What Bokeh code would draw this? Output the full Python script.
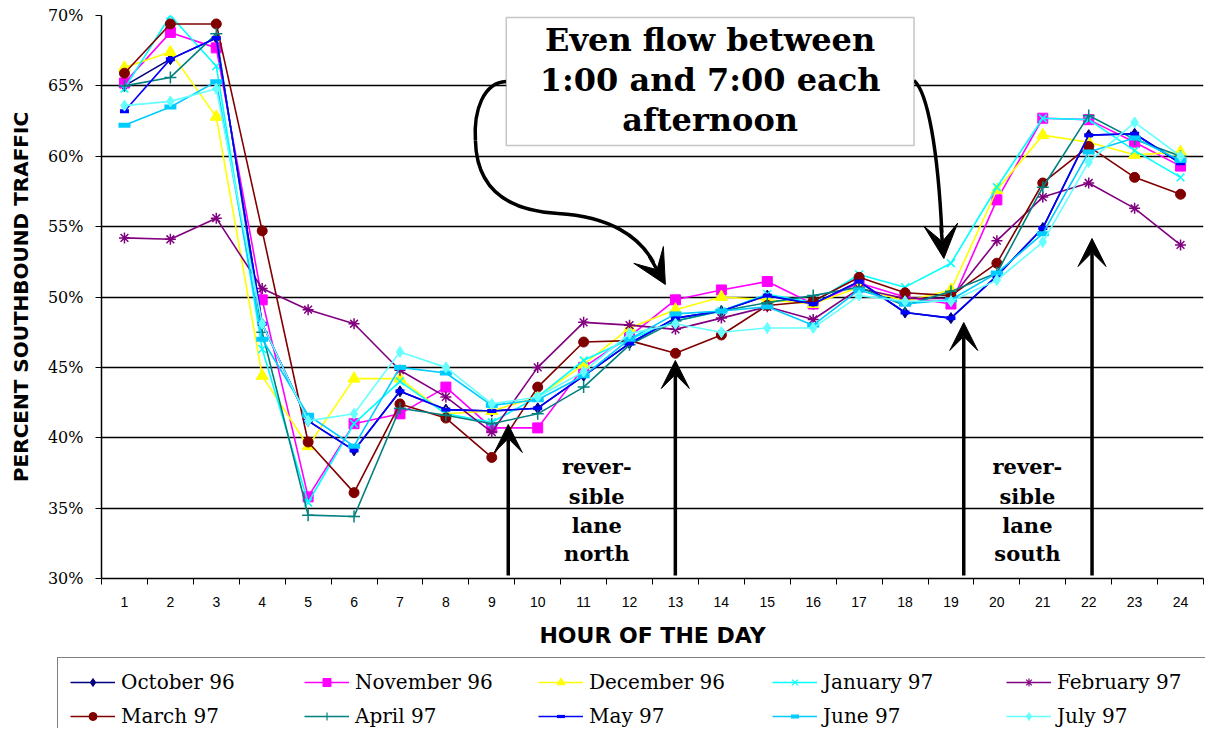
from bokeh.plotting import figure
from bokeh.layouts import column
from bokeh.models import (Range1d, FixedTicker, PrintfTickFormatter, Legend, LegendItem,
                          Arrow, VeeHead, BoxAnnotation, Label)
from bokeh.embed import file_html
from bokeh.resources import INLINE

# ---------------- data ----------------
hours = list(range(1, 25))
hour_edges = [h - 0.5 for h in hours] + [24.5]
y_ticks = [30, 35, 40, 45, 50, 55, 60, 65, 70]

oct96 = [65.0, 66.9, 68.4, 48.1, 41.2, 39.1, 43.3, 42.0, 41.9, 42.1, 44.4, 46.7,
         48.5, 49.0, 50.1, 49.5, 51.1, 48.9, 48.5, 51.5, 54.9, 61.5, 61.6, 59.5]
nov96 = [65.2, 68.8, 67.7, 49.8, 35.8, 41.0, 41.7, 43.6, 40.7, 40.7, 45.0, 47.2,
         49.8, 50.5, 51.1, 49.5, 51.0, 50.0, 49.5, 56.9, 62.7, 62.6, 61.0, 59.3]
dec96 = [66.3, 67.4, 62.8, 44.4, 39.4, 44.2, 44.2, 41.7, 41.9, 42.9, 45.2, 47.8,
         49.1, 50.0, 49.8, 49.5, 50.7, 49.7, 50.5, 57.6, 61.5, 61.0, 60.1, 60.3]
jan97 = [64.8, 70.0, 66.4, 46.3, 35.4, 41.0, 44.0, 41.7, 41.1, 42.9, 45.5, 47.0,
         48.3, 49.0, 50.2, 49.6, 51.6, 50.7, 52.4, 57.8, 62.7, 62.6, 60.4, 58.5]
feb97 = [54.2, 54.1, 55.6, 50.6, 49.1, 48.1, 44.8, 42.9, 40.4, 45.0, 48.2, 48.0,
         47.7, 48.5, 49.3, 48.4, 50.6, 49.9, 49.9, 54.0, 57.1, 58.1, 56.3, 53.7]
mar97 = [65.9, 69.4, 69.4, 54.7, 39.7, 36.1, 42.4, 41.4, 38.6, 43.6, 46.8, 46.9,
         46.0, 47.3, 49.4, 49.7, 51.4, 50.3, 50.1, 52.4, 58.1, 60.7, 58.5, 57.3]
apr97 = [65.0, 65.6, 68.7, 47.5, 34.5, 34.4, 42.1, 41.6, 41.0, 41.7, 43.6, 46.6,
         48.3, 49.0, 49.6, 50.1, 50.7, 49.4, 50.4, 51.7, 57.8, 62.9, 61.2, 60.0]
may97 = [63.2, 66.9, 68.4, 48.1, 41.2, 39.1, 43.3, 42.0, 41.9, 42.1, 44.4, 46.7,
         48.5, 49.0, 50.1, 49.5, 51.1, 48.9, 48.5, 51.5, 54.9, 61.5, 61.6, 59.5]
jun97 = [62.2, 63.5, 65.3, 47.0, 41.6, 39.4, 45.0, 44.6, 42.3, 42.7, 44.4, 47.0,
         48.8, 49.0, 49.3, 48.0, 50.5, 49.5, 49.8, 51.7, 54.5, 60.3, 61.3, 59.7]
jul97 = [63.6, 63.9, 64.8, 48.1, 41.2, 41.7, 46.1, 45.0, 42.4, 42.9, 44.7, 47.4,
         48.1, 47.5, 47.8, 47.8, 50.1, 49.7, 49.7, 51.2, 53.9, 59.6, 62.4, 60.0]

labels = ["October 96", "November 96", "December 96", "January 97", "February 97",
          "March 97", "April 97", "May 97", "June 97", "July 97"]
values = [oct96, nov96, dec96, jan97, feb97, mar97, apr97, may97, jun97, jul97]

# ---------------- styles ----------------
styles = [
    dict(color="#000080", marker="diamond", size=11, lw=1),
    dict(color="#FF00FF", marker="square", size=10, lw=1),
    dict(color="#FFFF00", marker="triangle", size=12, lw=1),
    dict(color="#00FFFF", marker="x", size=11, lw=1.5),
    dict(color="#800080", marker="asterisk", size=11, lw=1.5),
    dict(color="#800000", marker="circle", size=10, lw=1),
    dict(color="#008080", marker="cross", size=12, lw=1.5),
    dict(color="#0000FF", marker="dash", size=9, lw=4),
    dict(color="#00CCFF", marker="dash", size=12, lw=5),
    dict(color="#66FFFF", marker="diamond", size=11, lw=1),
]

W = 1205
p = figure(width=W, height=656, x_range=Range1d(0.5, 24.5), y_range=Range1d(30, 70),
           output_backend="svg", toolbar_location=None,
           min_border_left=101, min_border_right=2, min_border_top=15, min_border_bottom=78)
p.outline_line_color = None
p.background_fill_color = "white"
p.border_fill_color = "white"

# axes
p.xaxis.ticker = FixedTicker(ticks=hours, minor_ticks=hour_edges)
p.xaxis.major_tick_out = 0
p.xaxis.major_tick_in = 0
p.xaxis.minor_tick_out = 6
p.xaxis.minor_tick_in = 0
p.xaxis.minor_tick_line_color = "black"
p.xaxis.axis_line_color = "black"
p.xaxis.axis_line_width = 1.5
p.xaxis.major_label_text_font = "Liberation Sans"
p.xaxis.major_label_text_font_size = "14px"
p.xaxis.major_label_text_color = "black"
p.xaxis.major_label_standoff = 12
p.xaxis.axis_label = "HOUR OF THE DAY"
p.xaxis.axis_label_text_font = "DejaVu Sans"
p.xaxis.axis_label_text_font_style = "bold"
p.xaxis.axis_label_text_font_size = "22px"
p.xaxis.axis_label_text_color = "black"
p.xaxis.axis_label_standoff = 13

p.yaxis.ticker = FixedTicker(ticks=y_ticks, minor_ticks=[])
p.yaxis.formatter = PrintfTickFormatter(format="%d%%")
p.yaxis.major_tick_out = 6
p.yaxis.major_tick_in = 0
p.yaxis.major_tick_line_color = "black"
p.yaxis.axis_line_color = "black"
p.yaxis.axis_line_width = 1.5
p.yaxis.major_label_text_font = "DejaVu Serif"
p.yaxis.major_label_text_font_size = "16px"
p.yaxis.major_label_text_color = "black"
p.yaxis.major_label_standoff = 12
p.yaxis.axis_label = "PERCENT SOUTHBOUND TRAFFIC"
p.yaxis.axis_label_text_font = "DejaVu Sans"
p.yaxis.axis_label_text_font_style = "bold"
p.yaxis.axis_label_text_font_size = "20px"
p.yaxis.axis_label_text_color = "black"
p.yaxis.axis_label_standoff = 12

p.xgrid.grid_line_color = None
p.ygrid.ticker = FixedTicker(ticks=y_ticks)
p.ygrid.grid_line_color = "black"
p.ygrid.grid_line_width = 1.3

# series
for vals, st in zip(values, styles):
    p.line(hours, vals, line_color=st["color"], line_width=1.6)
    if st["marker"] in ("x", "asterisk", "cross", "dash"):
        p.scatter(hours, vals, marker=st["marker"], size=st["size"],
                  line_color=st["color"], line_width=st["lw"], fill_color=st["color"])
    else:
        p.scatter(hours, vals, marker=st["marker"], size=st["size"],
                  line_color=st["color"], fill_color=st["color"])

# ---------------- annotations ----------------
def ax(px):
    return 0.5 + (px - 101) / 46.17

def ay(py):
    return 30 + (578 - py) / 14.075

box = BoxAnnotation(left=ax(508), right=ax(918), bottom=ay(145), top=ay(17),
                    fill_color="white", fill_alpha=1, line_color="#404040", line_width=1.5)
p.add_layout(box)

for txt, py in [("Even flow between", 39), ("1:00 and 7:00 each", 79), ("afternoon", 119)]:
    p.add_layout(Label(x=ax(713), y=ay(py), text=txt, text_align="center",
                       text_baseline="middle", text_font="DejaVu Serif",
                       text_font_style="bold", text_font_size="32px", text_color="black"))

for cx, lines in [(599, ["rever-", "sible", "lane", "north"]),
                  (1032, ["rever-", "sible", "lane", "south"])]:
    for txt, py in zip(lines, [466, 496, 525, 553]):
        p.add_layout(Label(x=ax(cx), y=ay(py), text=txt, text_align="center",
                           text_baseline="middle", text_font="DejaVu Serif",
                           text_font_style="bold", text_font_size="21px", text_color="black"))

# vertical arrows
for px, tip in [(510, 424), (678, 360), (968, 322), (1097, 238)]:
    p.add_layout(Arrow(end=VeeHead(size=28, fill_color="black", line_color="black"),
                       x_start=ax(px), y_start=ay(575), x_end=ax(px), y_end=ay(tip),
                       line_color="black", line_width=3.5))

# curved arrows (bezier bodies)
curves = [
    ((508, 81), (485, 82), (475, 110), (477, 140)),
    ((477, 140), (478, 185), (505, 210), (560, 213)),
    ((560, 213), (612, 216), (642, 236), (656, 262)),
    ((918, 80), (932, 92), (942, 150), (946, 232)),
]
for (p0, c0, c1, p1) in curves:
    p.bezier(x0=[ax(p0[0])], y0=[ay(p0[1])], x1=[ax(p1[0])], y1=[ay(p1[1])],
             cx0=[ax(c0[0])], cy0=[ay(c0[1])], cx1=[ax(c1[0])], cy1=[ay(c1[1])],
             line_color="black", line_width=3.5)

for (s, e) in [((652, 256), (668, 284)), ((945, 225), (948, 258))]:
    p.add_layout(Arrow(end=VeeHead(size=34, fill_color="black", line_color="black"),
                       x_start=ax(s[0]), y_start=ay(s[1]), x_end=ax(e[0]), y_end=ay(e[1]),
                       line_color="black", line_width=3.5))

# ---------------- legend (own strip below the chart) ----------------
q = figure(width=W, height=72, x_range=Range1d(0, 1), y_range=Range1d(0, 1),
           output_backend="svg", toolbar_location=None,
           x_axis_location=None, y_axis_location=None, min_border=0)
q.outline_line_color = None
q.grid.visible = False
q.background_fill_color = "white"
q.border_fill_color = "white"
for fig in (p, q):
    try:
        fig.frame_align = False
    except Exception:
        pass

# legend swatches: one off-screen sample point each (only the legend shows them)
items = []
for lab, st in zip(labels, styles):
    ln = q.line([-5, -4], [-5, -5], line_color=st["color"], line_width=1.6)
    if st["marker"] in ("x", "asterisk", "cross", "dash"):
        sc = q.scatter([-5], [-5], marker=st["marker"], size=st["size"] - 2,
                       line_color=st["color"], line_width=st["lw"] * 0.8, fill_color=st["color"])
    else:
        sc = q.scatter([-5], [-5], marker=st["marker"], size=st["size"] - 2,
                       line_color=st["color"], fill_color=st["color"])
    items.append(LegendItem(label=lab, renderers=[ln, sc]))

legend = Legend(items=items, orientation="horizontal", ncols=5,
                location=(57, -13),
                border_line_color="black", border_line_width=1.2,
                background_fill_color="white", background_fill_alpha=1,
                label_text_font="DejaVu Serif", label_text_font_size="20px",
                label_text_color="black", glyph_width=45, glyph_height=20,
                label_standoff=6, label_width=173, spacing=10, padding=12, margin=0)
q.add_layout(legend, "center")

open("out.html", "w").write(file_html(column(p, q, spacing=0), INLINE))
